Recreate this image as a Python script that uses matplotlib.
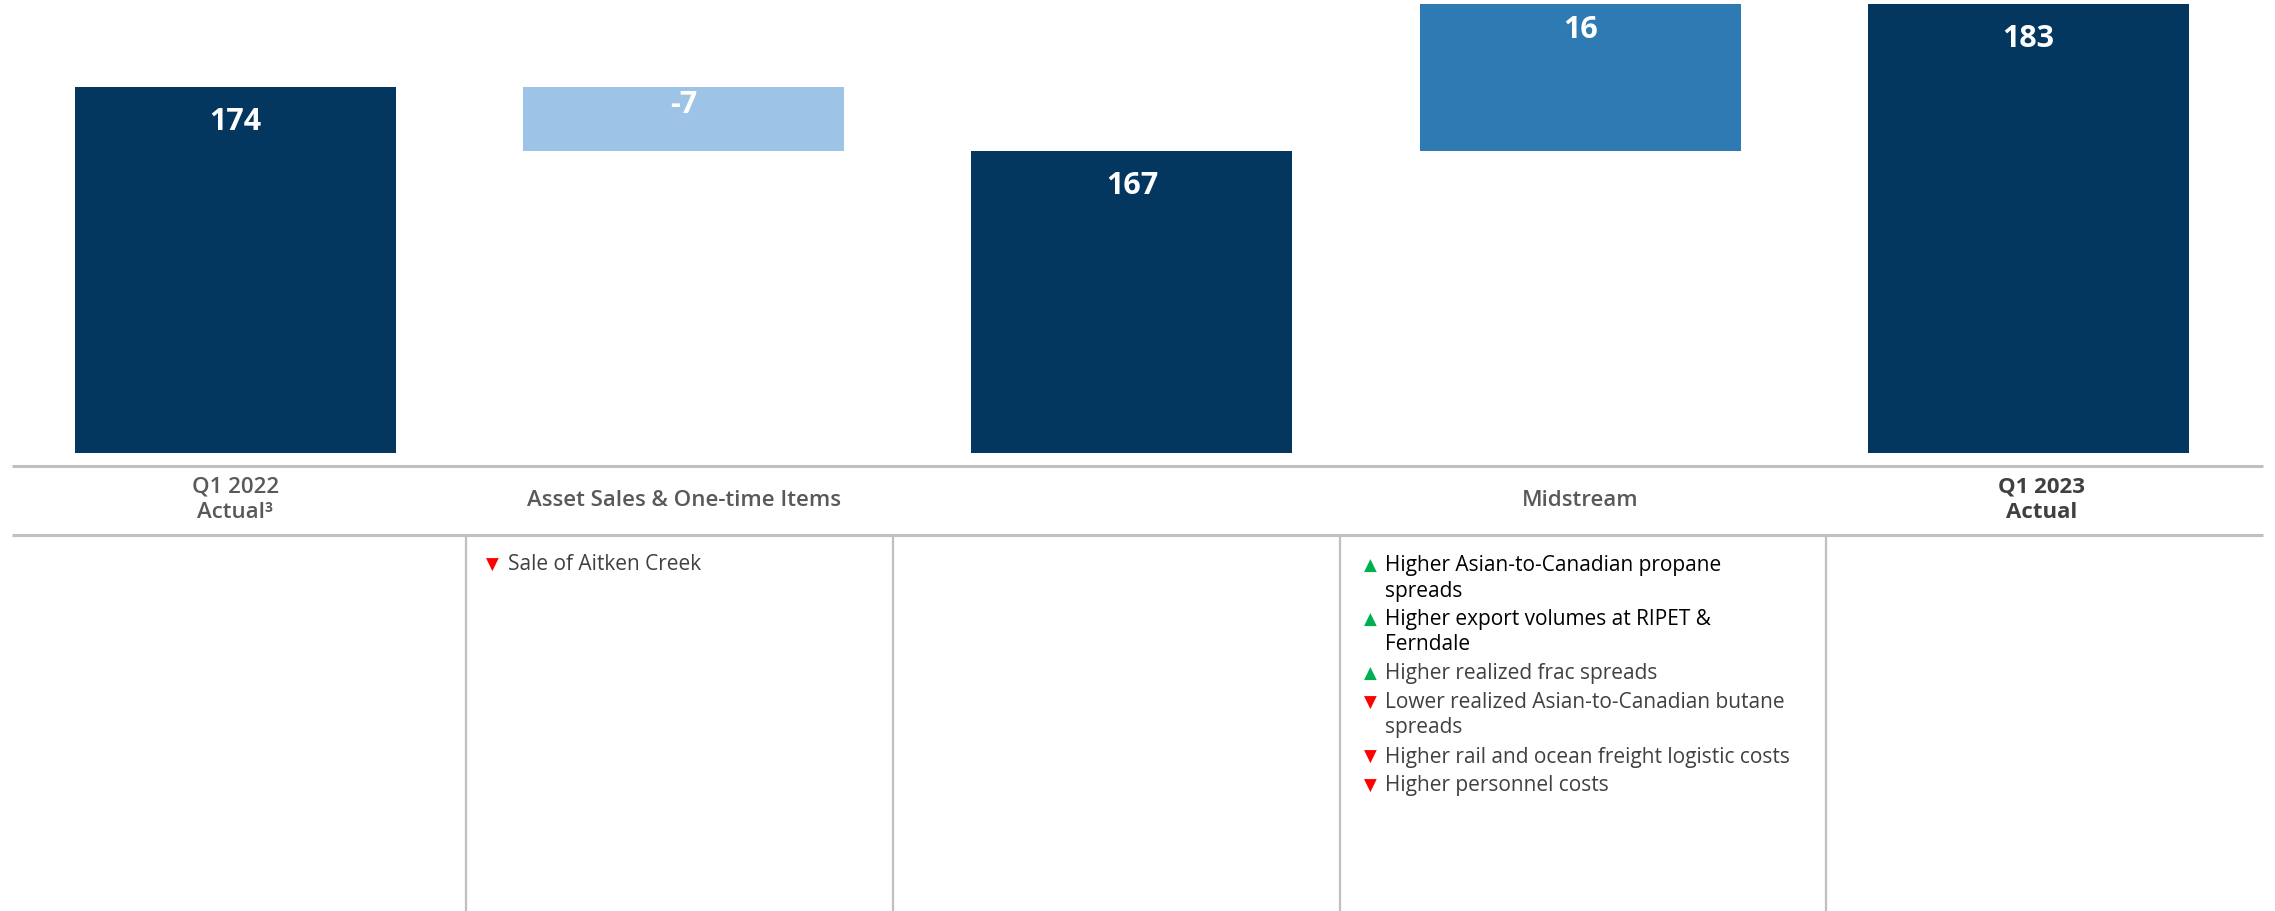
import numpy as np
import matplotlib
matplotlib.use('Agg')
import matplotlib.pyplot as plt
from matplotlib.transforms import blended_transform_factory

plt.rcParams['font.family'] = ['Open Sans', 'DejaVu Sans']

# ==========================================
# DADOS
# ==========================================
categorias = ['Q1 2022\nActual³', 'Asset Sales & One-time Items', '', 'Midstream', 'Q1 2023\nActual']
valores = [174, -7, 167, 16, 183]
tipos = ['total', 'delta', 'total', 'delta', 'total']
rotulos = ['174', '-7', '167', '16', '183']

itens_ativos = [('down', 'Sale of Aitken Creek')]
itens_midstream = [
    ('up', 'Higher Asian-to-Canadian propane\nspreads'),
    ('up', 'Higher export volumes at RIPET &\nFerndale'),
    ('up', 'Higher realized frac spreads'),
    ('down', 'Lower realized Asian-to-Canadian butane\nspreads'),
    ('down', 'Higher rail and ocean freight logistic costs'),
    ('down', 'Higher personnel costs'),
]

# ==========================================
# CORES / LAYOUT
# ==========================================
azul_escuro = '#03375F'
azul_medio = '#2E7BB4'
azul_claro = '#9DC3E6'
cinza_linha = '#C0C0C0'
cinza_texto = '#404040'

W, H = 2275, 911
fig = plt.figure(figsize=(W / 100, H / 100), dpi=100)

# --- waterfall ---
ax = fig.add_axes([0, 1 - 453 / H, 1, 453 / H])
x = np.arange(len(valores))
bases, alturas, topos, cores = [], [], [], []
nivel = 0
for v, t in zip(valores, tipos):
    if t == 'total':
        bases.append(0)
        alturas.append(v)
        nivel = v
        topos.append(v)
        cores.append(azul_escuro)
    else:
        bases.append(nivel + min(v, 0))
        alturas.append(abs(v))
        topos.append(nivel + max(v, 0))
        nivel += v
        cores.append(azul_claro if v < 0 else azul_medio)

ax.bar(x, alturas, bottom=bases, width=0.716, color=cores)
ax.set_xlim(-0.525, 4.55)
ax.set_ylim(134.2, 183.44)
ax.axis('off')

for xi, topo, r, t, v in zip(x, topos, rotulos, tipos, valores):
    if t == 'total':
        desloc = -25
    else:
        desloc = -13 if v < 0 else -19
    ax.annotate(r, xy=(xi, topo), xytext=(0, desloc), textcoords='offset points',
                ha='center', va='center', color='white', fontsize=22, fontweight='bold')

trans = blended_transform_factory(ax.transData, fig.transFigure)
for i, c in enumerate(categorias):
    ultimo = i == len(categorias) - 1
    ax.text(x[i] + (0.03 if ultimo else 0), 1 - 500 / H, c, transform=trans,
            ha='center', va='center', multialignment='center', fontsize=16,
            fontweight='bold' if ultimo else 'semibold',
            color=cinza_texto if ultimo else '#595959', linespacing=1.3)

# --- tabela (coordenadas em pixels) ---
ov = fig.add_axes([0, 0, 1, 1])
ov.set_xlim(0, W)
ov.set_ylim(H, 0)
ov.axis('off')

for yl in (466, 535):
    ov.plot([12, 2263], [yl, yl], color=cinza_linha, lw=2.2, solid_capstyle='butt')
for xl in (466, 893, 1340, 1826):
    ov.plot([xl, xl], [535, H], color=cinza_linha, lw=1.6, solid_capstyle='butt')


def desenha_itens(itens, x_tri, x_txt, y0, cores_txt):
    y = y0
    for k, (seta, texto) in enumerate(itens):
        simbolo = '▲' if seta == 'up' else '▼'
        cor_seta = '#00B050' if seta == 'up' else '#FF0000'
        ov.text(x_tri, y, simbolo, ha='center', va='center', fontsize=12,
                color=cor_seta, family='DejaVu Sans')
        linhas = texto.split('\n')
        for j, linha in enumerate(linhas):
            ov.text(x_txt, y + 25 * j, linha, ha='left', va='center', fontsize=15,
                    color=cores_txt[k])
        y += 25 * (len(linhas) - 1) + 29


desenha_itens(itens_ativos, 492, 508, 565, [cinza_texto])
desenha_itens(itens_midstream, 1370, 1385, 566,
              ['black', 'black'] + [cinza_texto] * 4)

fig.savefig('out.png', dpi=100)
